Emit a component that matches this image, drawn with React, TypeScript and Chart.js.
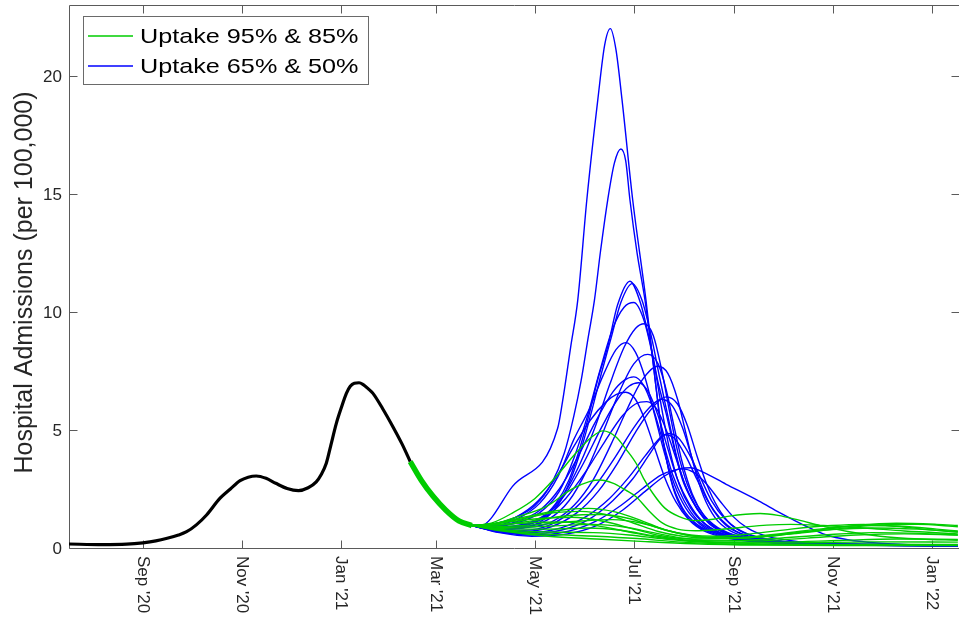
import React, { useEffect, useRef } from "react";
import { Chart, registerables } from "chart.js";
Chart.register(...registerables);

// x = days since 1 Sep 2020
const X_MIN = -45.6;
const X_MAX = 503.7;
const Y_MIN = 0;
const Y_MAX = 23;
const xTickDays = [0, 61, 122, 181, 242, 303, 365, 426, 487];
const xTickLabels = ["Sep '20", "Nov '20", "Jan '21", "Mar '21", "May '21", "Jul '21", "Sep '21", "Nov '21", "Jan '22"];
const yTicks = [0, 5, 10, 15, 20];
const yTitle = "Hospital Admissions (per 100,000)";
const legendLabels = ["Uptake 95% & 85%", "Uptake 65% & 50%"];

const GREEN = "#00cc00";
const BLUE = "#0000ff";
const AXIS = "#5a5a5a";
const TEXT = "#262626";
const FONT = '"Liberation Sans", Arial, Helvetica, sans-serif';

// observed data
const histDays = [-46, -25, -10, 0, 8, 15, 22, 27, 33, 39.3, 47.5, 54, 60, 65, 70, 76, 82, 89, 96, 102, 107, 110, 113.2, 116, 119.4, 122.5, 125.6, 128, 130.5, 133.4, 136, 139, 142, 148, 154.3, 160, 165];
const histVals = [0.17, 0.14, 0.16, 0.22, 0.3, 0.41, 0.55, 0.69, 0.98, 1.4, 2.1, 2.5, 2.85, 3.0, 3.05, 2.95, 2.74, 2.52, 2.43, 2.55, 2.8, 3.1, 3.59, 4.35, 5.28, 5.95, 6.55, 6.85, 6.98, 7.0, 6.92, 6.75, 6.55, 5.9, 5.14, 4.4, 3.66];

// shared start of all projections
const sharedDays = [165, 172, 179, 187, 195, 203];
const sharedVals = [3.66, 2.85, 2.2, 1.6, 1.15, 0.95];

// projections, uptake 65% & 50%: [day, value]
const blueA = [[203,0.95],[208,0.93],[228,2.6],[256,5.07],[259,6.2],[264,8.5],[268.4,10.5],[274,14.75],[280.8,19.0],[285,21.3],[288.5,22.0],[292,21.1],[295.7,19.0],[302.3,14.75],[310.5,10.5],[316,7.2],[321,4.6],[327,2.6],[334,1.5],[342,0.95],[355,0.55],[375,0.3],[410,0.17],[460,0.12],[503,0.1]];
const blueB = [[203,0.95],[215,1.0],[230,1.3],[242,1.8],[252,2.7],[260,4.0],[266,5.6],[270.5,7.1],[274.8,8.9],[278.7,10.5],[282.5,12.6],[286.9,14.75],[291,16.3],[295,16.9],[298,16.4],[300.6,14.75],[305,12.5],[309.9,10.5],[315,7.8],[320,5.0],[326,2.9],[333,1.7],[342,1.0],[355,0.6],[375,0.33],[410,0.2],[460,0.13],[503,0.1]];
const blueC1 = [[203,0.95],[215,0.85],[230,0.95],[244.8,1.19],[255,1.9],[263,2.88],[270,4.3],[275.6,5.71],[281,7.2],[286.9,8.53],[293,10.3],[300.6,11.3],[307,10.4],[313.6,8.53],[318,7.0],[322.9,5.71],[328,4.2],[333.1,2.88],[340,1.9],[347.5,1.19],[360,0.65],[380,0.35],[420,0.2],[503,0.12]];
const blueC2 = [[203,0.95],[215,0.8],[230,0.85],[245,1.1],[256,1.8],[264,2.9],[271,4.3],[277,5.8],[283,7.4],[289,8.9],[295,10.4],[302,11.2],[308,10.5],[314,8.9],[319,7.2],[324,5.6],[329,4.0],[334,2.8],[341,1.8],[349,1.1],[362,0.6],[385,0.3],[430,0.18],[503,0.12]];
const blueD = [[203,0.95],[215,0.9],[230,1.05],[245,1.5],[257,2.4],[266,3.8],[274,5.5],[282,7.5],[290,9.3],[297,10.2],[303,10.4],[309,9.7],[315,8.0],[320,6.0],[325,4.2],[331,2.7],[338,1.7],[347,1.0],[360,0.55],[385,0.28],[430,0.16],[503,0.1]];
const blueE = [[203,0.95],[215,0.85],[232,0.95],[248,1.4],[260,2.3],[270,3.6],[279,5.1],[288,6.9],[297,8.5],[304,9.3],[309.5,9.5],[315,9.0],[320,7.6],[325,5.8],[330,4.1],[336,2.7],[343,1.7],[352,1.0],[365,0.55],[390,0.28],[440,0.15],[503,0.1]];
const blueF = [[203,0.95],[215,0.95],[230,1.2],[245,1.9],[256,3.0],[266,4.6],[275.6,5.9],[284,7.3],[292,8.4],[298,8.7],[304,8.3],[310,7.2],[316,5.6],[322,4.0],[328,2.7],[335,1.7],[344,1.0],[357,0.55],[380,0.28],[430,0.15],[503,0.1]];
const blueG = [[203,0.95],[215,0.8],[232,0.85],[250,1.2],[263,2.0],[274,3.3],[284,4.9],[294,6.6],[303,7.8],[311.6,8.2],[318,7.8],[323,6.7],[328,5.1],[333,3.6],[339,2.3],[346,1.4],[355,0.8],[370,0.45],[400,0.22],[450,0.13],[503,0.1]];
const blueH = [[203,0.95],[218,0.8],[235,0.85],[252,1.1],[266,1.8],[278,2.9],[289,4.4],[299,5.9],[308,7.1],[317.7,7.7],[324,7.4],[330,6.3],[335,4.9],[340,3.5],[346,2.2],[353,1.3],[362,0.75],[378,0.4],[410,0.2],[460,0.12],[503,0.1]];
const blueI = [[203,0.95],[215,0.9],[230,1.1],[245,1.6],[257,2.5],[268,3.8],[279,5.3],[290,6.6],[297,7.1],[303,7.25],[309,6.9],[315,5.9],[321,4.5],[327,3.1],[334,2.0],[342,1.2],[353,0.7],[370,0.38],[400,0.2],[450,0.12],[503,0.1]];
const blueJ = [[203,0.95],[217,0.85],[233,0.95],[249,1.4],[261,2.3],[272,3.6],[283,5.1],[293,6.3],[300,6.85],[306,7.0],[312,6.6],[318,5.6],[324,4.2],[330,2.9],[337,1.9],[345,1.15],[356,0.65],[375,0.35],[410,0.18],[503,0.1]];
const blueK = [[203,0.95],[215,1.0],[230,1.3],[244,2.0],[256,3.1],[266,4.3],[276,5.4],[286,6.2],[292,6.5],[298,6.6],[304,6.3],[310,5.4],[316,4.2],[322,3.0],[329,1.95],[337,1.2],[347,0.7],[362,0.4],[390,0.2],[440,0.12],[503,0.1]];
const blueL1 = [[203,0.95],[218,0.75],[235,0.7],[252,0.9],[268,1.5],[281,2.4],[293,3.6],[304,4.9],[314,5.9],[323,6.4],[330,6.1],[336,5.2],[342,3.9],[348,2.7],[355,1.7],[363,1.0],[375,0.55],[395,0.28],[430,0.15],[503,0.1]];
const blueL2 = [[203,0.95],[218,0.78],[235,0.75],[252,1.0],[267,1.7],[280,2.7],[292,3.9],[303,5.1],[312,5.9],[320,6.3],[327,6.0],[333,5.1],[339,3.8],[345,2.6],[352,1.6],[360,0.95],[372,0.52],[392,0.27],[430,0.15],[503,0.1]];
const blueM = [[203,0.95],[216,0.85],[232,0.9],[248,1.3],[261,2.1],[273,3.2],[285,4.5],[296,5.6],[304,6.1],[311,6.2],[317,5.9],[323,5.0],[329,3.8],[335,2.6],[342,1.65],[350,1.0],[362,0.55],[380,0.3],[420,0.15],[503,0.1]];
const blueN1 = [[203,0.95],[218,0.7],[238,0.6],[258,0.75],[275,1.2],[290,2.0],[302,2.9],[312,3.9],[319,4.6],[324,4.85],[330,4.7],[337,4.0],[344,3.0],[351,2.0],[359,1.25],[368,0.75],[382,0.42],[405,0.22],[450,0.12],[503,0.1]];
const blueN2 = [[203,0.95],[218,0.72],[238,0.65],[258,0.85],[274,1.35],[288,2.1],[300,3.0],[310,3.9],[317,4.5],[322,4.8],[328,4.65],[335,3.9],[342,2.9],[349,1.95],[357,1.2],[366,0.72],[380,0.4],[403,0.21],[450,0.12],[503,0.1]];
const blueO1 = [[203,0.95],[220,0.65],[240,0.5],[262,0.6],[280,0.95],[296,1.6],[310,2.4],[322,3.05],[331,3.35],[338,3.4],[343,3.3],[360,2.7],[380,2.0],[393,1.5],[410,0.9],[422,0.55],[435,0.35],[455,0.2],[480,0.12],[503,0.1]];
const blueO2 = [[203,0.95],[220,0.68],[240,0.55],[262,0.7],[280,1.15],[295,1.8],[308,2.5],[320,3.1],[328,3.3],[333,3.35],[340,3.2],[348,2.7],[356,2.0],[364,1.35],[373,0.85],[385,0.5],[405,0.27],[440,0.14],[503,0.1]];

// projections, uptake 95% & 85%: [day, value]
const green1 = [[203,0.95],[215,1.05],[228,1.48],[242,2.1],[255,3.02],[267,4.0],[277,4.7],[284,4.96],[292,4.7],[298,4.2],[304.4,3.59],[309,2.95],[314.6,2.33],[322,1.7],[331,1.33],[341,1.16],[352,1.22],[362,1.35],[372,1.43],[381,1.46],[392,1.38],[405,1.18],[418,0.95],[435,0.7],[455,0.5],[480,0.38],[503,0.33]];
const green2 = [[203,0.95],[215,1.0],[230,1.3],[248.8,1.75],[265,2.5],[276,2.82],[282,2.88],[290,2.75],[298,2.45],[304.4,2.17],[312,1.6],[320.8,1.05],[330,0.8],[341,0.73],[355,0.78],[370,0.88],[385,0.97],[400,1.0],[420,0.95],[445,0.85],[470,0.72],[503,0.6]];
const green3 = [[203,0.95],[218,1.05],[235,1.3],[255,1.58],[275,1.68],[292,1.52],[308,1.15],[322,0.78],[338,0.55],[355,0.5],[375,0.6],[400,0.8],[425,0.95],[445,1.0],[465,0.92],[485,0.78],[503,0.68]];
const green4 = [[203,0.95],[218,1.02],[235,1.25],[252,1.48],[270,1.55],[287,1.4],[303,1.05],[318,0.7],[333,0.5],[350,0.42],[370,0.45],[395,0.62],[420,0.82],[445,0.95],[468,0.92],[490,0.8],[503,0.72]];
const green5 = [[203,0.95],[220,0.98],[240,1.15],[262,1.37],[283,1.42],[300,1.25],[316,0.9],[332,0.6],[350,0.45],[372,0.45],[400,0.6],[430,0.82],[455,0.98],[478,1.0],[503,0.9]];
const green6 = [[203,0.95],[220,1.05],[240,1.22],[265,1.3],[285,1.12],[303,0.8],[320,0.52],[340,0.38],[365,0.4],[395,0.58],[425,0.78],[450,0.85],[478,0.8],[503,0.68]];
const green7 = [[203,0.95],[222,0.92],[245,1.0],[268,1.13],[290,1.2],[308,1.05],[325,0.72],[342,0.48],[362,0.4],[385,0.48],[410,0.7],[440,0.95],[465,1.05],[490,1.0],[503,0.95]];
const green8 = [[203,0.95],[222,1.0],[242,1.08],[260,1.1],[280,0.95],[300,0.68],[318,0.45],[338,0.32],[360,0.3],[390,0.4],[420,0.55],[450,0.65],[480,0.62],[503,0.55]];
const green9 = [[203,0.95],[222,0.88],[250,0.92],[278,1.0],[298,0.88],[315,0.65],[333,0.42],[352,0.3],[378,0.3],[410,0.42],[440,0.55],[470,0.6],[503,0.55]];
const green10 = [[203,0.95],[222,0.82],[250,0.8],[275,0.85],[295,0.75],[315,0.52],[335,0.33],[360,0.24],[395,0.25],[430,0.32],[465,0.38],[503,0.36]];
const green11 = [[203,0.95],[222,0.78],[250,0.68],[278,0.65],[300,0.55],[322,0.38],[345,0.25],[375,0.2],[410,0.22],[450,0.26],[503,0.25]];
const green12 = [[203,0.95],[222,0.75],[250,0.58],[280,0.5],[305,0.4],[330,0.26],[360,0.17],[400,0.15],[450,0.16],[503,0.15]];
const green13 = [[203,0.95],[222,0.72],[250,0.5],[280,0.38],[310,0.27],[340,0.18],[380,0.12],[430,0.1],[503,0.1]];

const blueSeries = [blueA, blueB, blueC1, blueC2, blueD, blueE, blueF, blueG, blueH, blueI, blueJ, blueK, blueL1, blueL2, blueM, blueN1, blueN2, blueO1, blueO2];
const greenSeries = [green1, green2, green3, green4, green5, green6, green7, green8, green9, green10, green11, green12, green13];

const toXY = (xs: number[], ys: number[]) => xs.map((x, i) => ({ x, y: ys[i] }));
const pairsToXY = (p: number[][]) => p.map(([x, y]) => ({ x, y }));

const lineBase = {
  pointRadius: 0,
  pointHoverRadius: 0,
  fill: false,
  cubicInterpolationMode: "monotone" as const,
};

const axesPlugin = {
  id: "matlabAxes",
  beforeDatasetsDraw(chart: any) {
    const { ctx, chartArea } = chart;
    const { left, right, top, bottom } = chartArea;
    const xs = chart.scales.x;
    const ys = chart.scales.y;
    ctx.save();
    ctx.strokeStyle = AXIS;
    ctx.lineWidth = 1;
    ctx.beginPath();
    ctx.moveTo(left + 0.5, bottom + 0.5);
    ctx.lineTo(left + 0.5, top + 0.5);
    ctx.lineTo(right + 0.5, top + 0.5);
    ctx.lineTo(right + 0.5, bottom + 0.5);
    ctx.lineTo(left + 0.5, bottom + 0.5);
    ctx.stroke();
    const TL = 8;
    ctx.beginPath();
    xTickDays.forEach((d) => {
      const px = Math.round(xs.getPixelForValue(d)) + 0.5;
      ctx.moveTo(px, bottom + 0.5);
      ctx.lineTo(px, bottom + 0.5 - TL);
      ctx.moveTo(px, top + 0.5);
      ctx.lineTo(px, top + 0.5 + TL);
    });
    yTicks.forEach((v) => {
      const py = Math.round(ys.getPixelForValue(v)) + 0.5;
      ctx.moveTo(left + 0.5, py);
      ctx.lineTo(left + 0.5 + TL, py);
      ctx.moveTo(right + 0.5, py);
      ctx.lineTo(right + 0.5 - TL, py);
    });
    ctx.stroke();

    ctx.fillStyle = TEXT;
    ctx.font = `17px ${FONT}`;
    ctx.textAlign = "right";
    ctx.textBaseline = "middle";
    yTicks.forEach((v) => {
      ctx.fillText(String(v), left - 7, ys.getPixelForValue(v) + 1);
    });
    xTickDays.forEach((d, i) => {
      const px = xs.getPixelForValue(d);
      ctx.save();
      ctx.translate(px - 5, bottom + 8);
      ctx.rotate(Math.PI / 2);
      ctx.textAlign = "left";
      ctx.textBaseline = "alphabetic";
      ctx.fillText(xTickLabels[i], 0, 0);
      ctx.restore();
    });
    ctx.save();
    ctx.font = `25px ${FONT}`;
    ctx.translate(31.5, (top + bottom) / 2 + 6);
    ctx.rotate(-Math.PI / 2);
    ctx.textAlign = "center";
    ctx.textBaseline = "alphabetic";
    ctx.fillText(yTitle, 0, 0);
    ctx.restore();
    ctx.restore();
  },
  afterDraw(chart: any) {
    const { ctx } = chart;
    ctx.save();
    ctx.fillStyle = "#ffffff";
    ctx.fillRect(83, 16, 285, 68);
    ctx.strokeStyle = "#6a6a6a";
    ctx.lineWidth = 1;
    ctx.strokeRect(83.5, 16.5, 285, 68);
    const rows = [
      { color: GREEN, y: 36, base: 43.3 },
      { color: BLUE, y: 66, base: 73.3 },
    ];
    rows.forEach((r, i) => {
      ctx.strokeStyle = r.color;
      ctx.lineWidth = 1.3;
      ctx.beginPath();
      ctx.moveTo(88, r.y);
      ctx.lineTo(133, r.y);
      ctx.stroke();
      ctx.save();
      ctx.fillStyle = "#000";
      ctx.font = `21px ${FONT}`;
      ctx.translate(140, r.base);
      ctx.scale(1.2, 1);
      ctx.textAlign = "left";
      ctx.textBaseline = "alphabetic";
      ctx.fillText(legendLabels[i], 0, 0);
      ctx.restore();
    });
    ctx.restore();
  },
};

export default function App() {
  const ref = useRef<HTMLCanvasElement>(null);
  useEffect(() => {
    const datasets: any[] = [
      { ...lineBase, data: toXY(sharedDays, sharedVals), borderColor: GREEN, borderWidth: 5.5, order: 0 },
      { ...lineBase, data: toXY(histDays, histVals), borderColor: "#000", borderWidth: 3.2, order: 0 },
      ...greenSeries.map((s) => ({ ...lineBase, data: pairsToXY(s), borderColor: GREEN, borderWidth: 1.4, order: 1 })),
      ...blueSeries.map((s) => ({ ...lineBase, data: pairsToXY(s), borderColor: BLUE, borderWidth: 1.4, order: 2 })),
    ];
    const chart = new Chart(ref.current as HTMLCanvasElement, {
      type: "line",
      data: { datasets },
      plugins: [axesPlugin],
      options: {
        animation: false,
        responsive: false,
        devicePixelRatio: 1,
        layout: { padding: { top: 5, right: -1, left: 0, bottom: 0 } },
        plugins: { legend: { display: false }, tooltip: { enabled: false } },
        events: [],
        scales: {
          x: {
            type: "linear",
            min: X_MIN,
            max: X_MAX,
            ticks: { display: false },
            grid: { display: false },
            border: { display: false },
            afterFit: (s: any) => { s.height = 74; },
          },
          y: {
            type: "linear",
            min: Y_MIN,
            max: Y_MAX,
            ticks: { display: false },
            grid: { display: false },
            border: { display: false },
            afterFit: (s: any) => { s.width = 69; },
          },
        },
      } as any,
    });
    return () => chart.destroy();
  }, []);
  return (
    <div style={{ position: "fixed", left: 0, top: 0, width: 959, height: 622, background: "#fff" }}>
      <canvas ref={ref} width={959} height={622} style={{ display: "block" }} />
    </div>
  );
}
